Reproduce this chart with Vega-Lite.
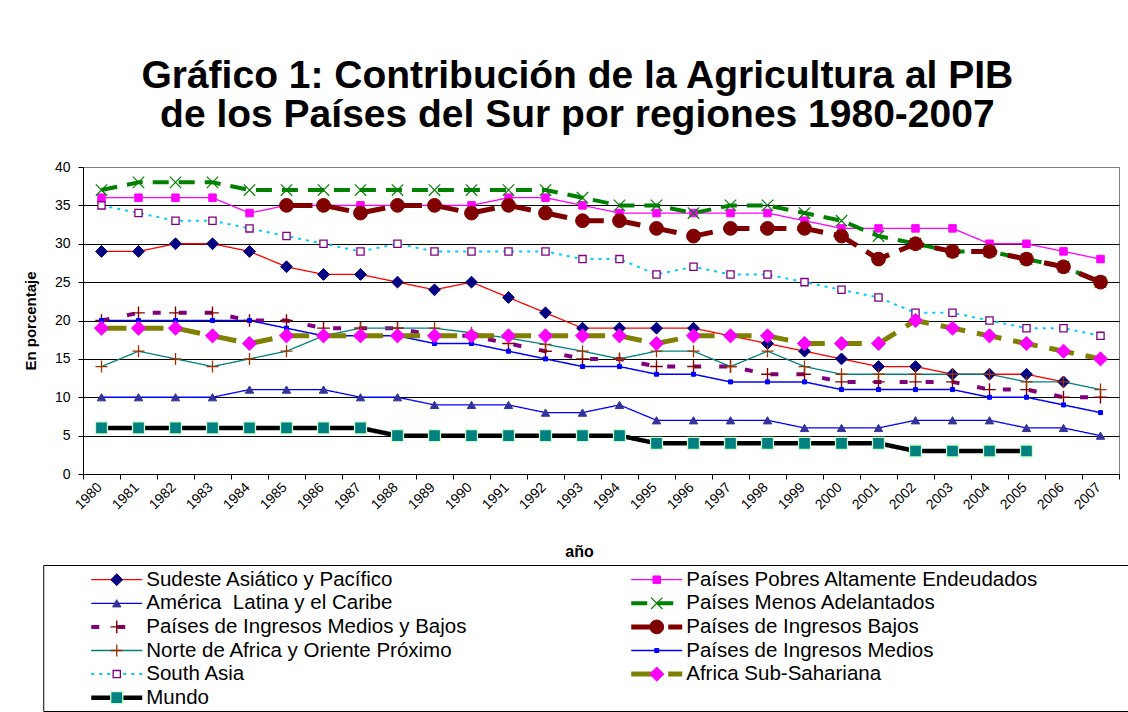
{
  "$schema": "https://vega.github.io/schema/vega-lite/v6.json",
  "padding": {"top": 56, "left": 22, "right": 8, "bottom": 0},
  "background": "white",
  "config": {"font": "Liberation Sans", "view": {"stroke": null}, "concat": {"spacing": 3}},
  "title": {"text": ["Gráfico 1: Contribución de la Agricultura al PIB", "de los Países del Sur por regiones 1980-2007"], "fontSize": 39, "lineHeight": 39, "fontWeight": "bold", "color": "black", "anchor": "middle", "offset": 25, "dx": -14},
  "center": true,
  "datasets": {
    "pts": [
      {"series":"SEA","year":1980,"value":29},{"series":"SEA","year":1981,"value":29},{"series":"SEA","year":1982,"value":30},{"series":"SEA","year":1983,"value":30},{"series":"SEA","year":1984,"value":29},{"series":"SEA","year":1985,"value":27},{"series":"SEA","year":1986,"value":26},{"series":"SEA","year":1987,"value":26},{"series":"SEA","year":1988,"value":25},{"series":"SEA","year":1989,"value":24},{"series":"SEA","year":1990,"value":25},{"series":"SEA","year":1991,"value":23},{"series":"SEA","year":1992,"value":21},{"series":"SEA","year":1993,"value":19},{"series":"SEA","year":1994,"value":19},{"series":"SEA","year":1995,"value":19},{"series":"SEA","year":1996,"value":19},{"series":"SEA","year":1997,"value":18},{"series":"SEA","year":1998,"value":17},{"series":"SEA","year":1999,"value":16},{"series":"SEA","year":2000,"value":15},{"series":"SEA","year":2001,"value":14},{"series":"SEA","year":2002,"value":14},{"series":"SEA","year":2003,"value":13},{"series":"SEA","year":2004,"value":13},{"series":"SEA","year":2005,"value":13},{"series":"SEA","year":2006,"value":12},
      {"series":"HIPC","year":1980,"value":36},{"series":"HIPC","year":1981,"value":36},{"series":"HIPC","year":1982,"value":36},{"series":"HIPC","year":1983,"value":36},{"series":"HIPC","year":1984,"value":34},{"series":"HIPC","year":1985,"value":35},{"series":"HIPC","year":1986,"value":35},{"series":"HIPC","year":1987,"value":35},{"series":"HIPC","year":1988,"value":35},{"series":"HIPC","year":1989,"value":35},{"series":"HIPC","year":1990,"value":35},{"series":"HIPC","year":1991,"value":36},{"series":"HIPC","year":1992,"value":36},{"series":"HIPC","year":1993,"value":35},{"series":"HIPC","year":1994,"value":34},{"series":"HIPC","year":1995,"value":34},{"series":"HIPC","year":1996,"value":34},{"series":"HIPC","year":1997,"value":34},{"series":"HIPC","year":1998,"value":34},{"series":"HIPC","year":1999,"value":33},{"series":"HIPC","year":2000,"value":32},{"series":"HIPC","year":2001,"value":32},{"series":"HIPC","year":2002,"value":32},{"series":"HIPC","year":2003,"value":32},{"series":"HIPC","year":2004,"value":30},{"series":"HIPC","year":2005,"value":30},{"series":"HIPC","year":2006,"value":29},{"series":"HIPC","year":2007,"value":28},
      {"series":"LAC","year":1980,"value":10},{"series":"LAC","year":1981,"value":10},{"series":"LAC","year":1982,"value":10},{"series":"LAC","year":1983,"value":10},{"series":"LAC","year":1984,"value":11},{"series":"LAC","year":1985,"value":11},{"series":"LAC","year":1986,"value":11},{"series":"LAC","year":1987,"value":10},{"series":"LAC","year":1988,"value":10},{"series":"LAC","year":1989,"value":9},{"series":"LAC","year":1990,"value":9},{"series":"LAC","year":1991,"value":9},{"series":"LAC","year":1992,"value":8},{"series":"LAC","year":1993,"value":8},{"series":"LAC","year":1994,"value":9},{"series":"LAC","year":1995,"value":7},{"series":"LAC","year":1996,"value":7},{"series":"LAC","year":1997,"value":7},{"series":"LAC","year":1998,"value":7},{"series":"LAC","year":1999,"value":6},{"series":"LAC","year":2000,"value":6},{"series":"LAC","year":2001,"value":6},{"series":"LAC","year":2002,"value":7},{"series":"LAC","year":2003,"value":7},{"series":"LAC","year":2004,"value":7},{"series":"LAC","year":2005,"value":6},{"series":"LAC","year":2006,"value":6},{"series":"LAC","year":2007,"value":5},
      {"series":"LDC","year":1980,"value":37},{"series":"LDC","year":1981,"value":38},{"series":"LDC","year":1982,"value":38},{"series":"LDC","year":1983,"value":38},{"series":"LDC","year":1984,"value":37},{"series":"LDC","year":1985,"value":37},{"series":"LDC","year":1986,"value":37},{"series":"LDC","year":1987,"value":37},{"series":"LDC","year":1988,"value":37},{"series":"LDC","year":1989,"value":37},{"series":"LDC","year":1990,"value":37},{"series":"LDC","year":1991,"value":37},{"series":"LDC","year":1992,"value":37},{"series":"LDC","year":1993,"value":36},{"series":"LDC","year":1994,"value":35},{"series":"LDC","year":1995,"value":35},{"series":"LDC","year":1996,"value":34},{"series":"LDC","year":1997,"value":35},{"series":"LDC","year":1998,"value":35},{"series":"LDC","year":1999,"value":34},{"series":"LDC","year":2000,"value":33},{"series":"LDC","year":2001,"value":31},{"series":"LDC","year":2002,"value":30},{"series":"LDC","year":2003,"value":29},{"series":"LDC","year":2004,"value":29},{"series":"LDC","year":2005,"value":28},{"series":"LDC","year":2006,"value":27},{"series":"LDC","year":2007,"value":25},
      {"series":"LMIC","year":1980,"value":20},{"series":"LMIC","year":1981,"value":21},{"series":"LMIC","year":1982,"value":21},{"series":"LMIC","year":1983,"value":21},{"series":"LMIC","year":1984,"value":20},{"series":"LMIC","year":1985,"value":20},{"series":"LMIC","year":1986,"value":19},{"series":"LMIC","year":1987,"value":19},{"series":"LMIC","year":1988,"value":19},{"series":"LMIC","year":1989,"value":18},{"series":"LMIC","year":1990,"value":18},{"series":"LMIC","year":1991,"value":17},{"series":"LMIC","year":1992,"value":16},{"series":"LMIC","year":1993,"value":15},{"series":"LMIC","year":1994,"value":15},{"series":"LMIC","year":1995,"value":14},{"series":"LMIC","year":1996,"value":14},{"series":"LMIC","year":1997,"value":14},{"series":"LMIC","year":1998,"value":13},{"series":"LMIC","year":1999,"value":13},{"series":"LMIC","year":2000,"value":12},{"series":"LMIC","year":2001,"value":12},{"series":"LMIC","year":2002,"value":12},{"series":"LMIC","year":2003,"value":12},{"series":"LMIC","year":2004,"value":11},{"series":"LMIC","year":2005,"value":11},{"series":"LMIC","year":2006,"value":10},{"series":"LMIC","year":2007,"value":10},
      {"series":"LIC","year":1985,"value":35},{"series":"LIC","year":1986,"value":35},{"series":"LIC","year":1987,"value":34},{"series":"LIC","year":1988,"value":35},{"series":"LIC","year":1989,"value":35},{"series":"LIC","year":1990,"value":34},{"series":"LIC","year":1991,"value":35},{"series":"LIC","year":1992,"value":34},{"series":"LIC","year":1993,"value":33},{"series":"LIC","year":1994,"value":33},{"series":"LIC","year":1995,"value":32},{"series":"LIC","year":1996,"value":31},{"series":"LIC","year":1997,"value":32},{"series":"LIC","year":1998,"value":32},{"series":"LIC","year":1999,"value":32},{"series":"LIC","year":2000,"value":31},{"series":"LIC","year":2001,"value":28},{"series":"LIC","year":2002,"value":30},{"series":"LIC","year":2003,"value":29},{"series":"LIC","year":2004,"value":29},{"series":"LIC","year":2005,"value":28},{"series":"LIC","year":2006,"value":27},{"series":"LIC","year":2007,"value":25},
      {"series":"MENA","year":1980,"value":14},{"series":"MENA","year":1981,"value":16},{"series":"MENA","year":1982,"value":15},{"series":"MENA","year":1983,"value":14},{"series":"MENA","year":1984,"value":15},{"series":"MENA","year":1985,"value":16},{"series":"MENA","year":1986,"value":18},{"series":"MENA","year":1987,"value":19},{"series":"MENA","year":1988,"value":19},{"series":"MENA","year":1989,"value":19},{"series":"MENA","year":1990,"value":18.4},{"series":"MENA","year":1991,"value":17.7},{"series":"MENA","year":1992,"value":16.9},{"series":"MENA","year":1993,"value":16},{"series":"MENA","year":1994,"value":15},{"series":"MENA","year":1995,"value":16},{"series":"MENA","year":1996,"value":16},{"series":"MENA","year":1997,"value":14},{"series":"MENA","year":1998,"value":16},{"series":"MENA","year":1999,"value":14},{"series":"MENA","year":2000,"value":13},{"series":"MENA","year":2001,"value":13},{"series":"MENA","year":2002,"value":13},{"series":"MENA","year":2003,"value":13},{"series":"MENA","year":2004,"value":13},{"series":"MENA","year":2005,"value":12},{"series":"MENA","year":2006,"value":12},{"series":"MENA","year":2007,"value":11},
      {"series":"MIC","year":1980,"value":20},{"series":"MIC","year":1981,"value":20},{"series":"MIC","year":1982,"value":20},{"series":"MIC","year":1983,"value":20},{"series":"MIC","year":1984,"value":20},{"series":"MIC","year":1985,"value":19},{"series":"MIC","year":1986,"value":18},{"series":"MIC","year":1987,"value":18},{"series":"MIC","year":1988,"value":18},{"series":"MIC","year":1989,"value":17},{"series":"MIC","year":1990,"value":17},{"series":"MIC","year":1991,"value":16},{"series":"MIC","year":1992,"value":15},{"series":"MIC","year":1993,"value":14},{"series":"MIC","year":1994,"value":14},{"series":"MIC","year":1995,"value":13},{"series":"MIC","year":1996,"value":13},{"series":"MIC","year":1997,"value":12},{"series":"MIC","year":1998,"value":12},{"series":"MIC","year":1999,"value":12},{"series":"MIC","year":2000,"value":11},{"series":"MIC","year":2001,"value":11},{"series":"MIC","year":2002,"value":11},{"series":"MIC","year":2003,"value":11},{"series":"MIC","year":2004,"value":10},{"series":"MIC","year":2005,"value":10},{"series":"MIC","year":2006,"value":9},{"series":"MIC","year":2007,"value":8},
      {"series":"SA","year":1980,"value":35},{"series":"SA","year":1981,"value":34},{"series":"SA","year":1982,"value":33},{"series":"SA","year":1983,"value":33},{"series":"SA","year":1984,"value":32},{"series":"SA","year":1985,"value":31},{"series":"SA","year":1986,"value":30},{"series":"SA","year":1987,"value":29},{"series":"SA","year":1988,"value":30},{"series":"SA","year":1989,"value":29},{"series":"SA","year":1990,"value":29},{"series":"SA","year":1991,"value":29},{"series":"SA","year":1992,"value":29},{"series":"SA","year":1993,"value":28},{"series":"SA","year":1994,"value":28},{"series":"SA","year":1995,"value":26},{"series":"SA","year":1996,"value":27},{"series":"SA","year":1997,"value":26},{"series":"SA","year":1998,"value":26},{"series":"SA","year":1999,"value":25},{"series":"SA","year":2000,"value":24},{"series":"SA","year":2001,"value":23},{"series":"SA","year":2002,"value":21},{"series":"SA","year":2003,"value":21},{"series":"SA","year":2004,"value":20},{"series":"SA","year":2005,"value":19},{"series":"SA","year":2006,"value":19},{"series":"SA","year":2007,"value":18},
      {"series":"SSA","year":1980,"value":19},{"series":"SSA","year":1981,"value":19},{"series":"SSA","year":1982,"value":19},{"series":"SSA","year":1983,"value":18},{"series":"SSA","year":1984,"value":17},{"series":"SSA","year":1985,"value":18},{"series":"SSA","year":1986,"value":18},{"series":"SSA","year":1987,"value":18},{"series":"SSA","year":1988,"value":18},{"series":"SSA","year":1989,"value":18},{"series":"SSA","year":1990,"value":18},{"series":"SSA","year":1991,"value":18},{"series":"SSA","year":1992,"value":18},{"series":"SSA","year":1993,"value":18},{"series":"SSA","year":1994,"value":18},{"series":"SSA","year":1995,"value":17},{"series":"SSA","year":1996,"value":18},{"series":"SSA","year":1997,"value":18},{"series":"SSA","year":1998,"value":18},{"series":"SSA","year":1999,"value":17},{"series":"SSA","year":2000,"value":17},{"series":"SSA","year":2001,"value":17},{"series":"SSA","year":2002,"value":20},{"series":"SSA","year":2003,"value":19},{"series":"SSA","year":2004,"value":18},{"series":"SSA","year":2005,"value":17},{"series":"SSA","year":2006,"value":16},{"series":"SSA","year":2007,"value":15},
      {"series":"WLD","year":1980,"value":6},{"series":"WLD","year":1981,"value":6},{"series":"WLD","year":1982,"value":6},{"series":"WLD","year":1983,"value":6},{"series":"WLD","year":1984,"value":6},{"series":"WLD","year":1985,"value":6},{"series":"WLD","year":1986,"value":6},{"series":"WLD","year":1987,"value":6},{"series":"WLD","year":1988,"value":5},{"series":"WLD","year":1989,"value":5},{"series":"WLD","year":1990,"value":5},{"series":"WLD","year":1991,"value":5},{"series":"WLD","year":1992,"value":5},{"series":"WLD","year":1993,"value":5},{"series":"WLD","year":1994,"value":5},{"series":"WLD","year":1995,"value":4},{"series":"WLD","year":1996,"value":4},{"series":"WLD","year":1997,"value":4},{"series":"WLD","year":1998,"value":4},{"series":"WLD","year":1999,"value":4},{"series":"WLD","year":2000,"value":4},{"series":"WLD","year":2001,"value":4},{"series":"WLD","year":2002,"value":3},{"series":"WLD","year":2003,"value":3},{"series":"WLD","year":2004,"value":3},{"series":"WLD","year":2005,"value":3}
    ],
    "leg": [
      {"series":"SEA","label":"Sudeste Asiático y Pacífico","col":0,"row":0},
      {"series":"LAC","label":"\u00a0América\u00a0 Latina y el Caribe","col":0,"row":1},
      {"series":"LMIC","label":"Países de Ingresos Medios y Bajos","col":0,"row":2},
      {"series":"MENA","label":"Norte de Africa y Oriente Próximo","col":0,"row":3},
      {"series":"SA","label":"\u00a0South Asia","col":0,"row":4},
      {"series":"WLD","label":"Mundo","col":0,"row":5},
      {"series":"HIPC","label":"Países Pobres Altamente Endeudados","col":1,"row":0},
      {"series":"LDC","label":"Países Menos Adelantados","col":1,"row":1},
      {"series":"LIC","label":"Países de Ingresos Bajos","col":1,"row":2},
      {"series":"MIC","label":"Países de Ingresos Medios","col":1,"row":3},
      {"series":"SSA","label":"\u00a0Africa Sub-Sahariana","col":1,"row":4}
    ]
  },
  "vconcat": [
    {
      "width": 1036,
      "height": 307,
      "data": {"name": "pts"},
      "view": {"stroke": "#808080", "strokeWidth": 1},
      "encoding": {
        "x": {"field": "year", "type": "ordinal", "scale": {"type": "band", "paddingInner": 0, "paddingOuter": 0},
          "axis": {"tickBand": "extent", "labelAngle": -45, "labelAlign": "right", "labelBaseline": "middle", "labelFontSize": 14, "labelColor": "black", "labelPadding": 6, "labelOffset": -2, "tickSize": 5, "tickColor": "black", "domainColor": "black", "grid": false, "title": "año", "titleFontSize": 16, "titleFontWeight": "bold", "titleColor": "black", "titlePadding": 32, "titleX": 496}},
        "y": {"field": "value", "type": "quantitative", "scale": {"domain": [0, 40]},
          "axis": {"values": [0,5,10,15,20,25,30,35,40], "grid": true, "gridColor": {"condition": {"test": "datum.value === 40", "value": "#808080"}, "value": "black"}, "gridWidth": 1, "domainColor": "black", "tickColor": "black", "tickSize": 5, "labelFontSize": 14, "labelColor": "black", "labelPadding": 8, "title": "En porcentaje", "titleFontSize": 15, "titleFontWeight": "bold", "titleColor": "black", "titlePadding": 16}}
      },
      "layer": [
        {
          "mark": {"type": "line", "strokeCap": "butt", "strokeJoin": "round"},
          "encoding": {
            "stroke": {"field": "series", "type": "nominal", "legend": null, "scale": {"domain": ["SEA","HIPC","LAC","LDC","LMIC","LIC","MENA","MIC","SA","SSA","WLD"], "range": ["#FF0000","#FF00FF","#0000FF","#008000","#800080","#800000","#008080","#0000FF","#00CCFF","#808000","#000000"]}},
            "strokeDash": {"field": "series", "type": "nominal", "legend": null, "scale": {"domain": ["SEA","HIPC","LAC","LDC","LMIC","LIC","MENA","MIC","SA","SSA","WLD"], "range": [[1,0],[1,0],[1,0],[16,10],[8,18],[26,11],[1,0],[1,0],[3,5],[25,12],[1,0]]}},
            "strokeWidth": {"field": "series", "type": "nominal", "legend": null, "scale": {"type": "ordinal", "domain": ["SEA","HIPC","LAC","LDC","LMIC","LIC","MENA","MIC","SA","SSA","WLD"], "range": [1.3,1.3,1.3,4,4,5,1.3,1.5,2,5,4.5]}}
          }
        },
        {
          "mark": {"type": "point", "opacity": 1},
          "encoding": {
            "shape": {"field": "series", "type": "nominal", "legend": null, "scale": {"domain": ["SEA","HIPC","LAC","LDC","LMIC","LIC","MENA","MIC","SA","SSA","WLD"], "range": ["diamond","square","triangle-up","M-1,-1L1,1M-1,1L1,-1","M-1,0L1,0M0,-1L0,1","circle","M-1,0L1,0M0,-1L0,1","square","square","diamond","square"]}},
            "fill": {"field": "series", "type": "nominal", "legend": null, "scale": {"domain": ["SEA","HIPC","LAC","LDC","LMIC","LIC","MENA","MIC","SA","SSA","WLD"], "range": ["#000080","#FF00FF","#333399","transparent","transparent","#800000","transparent","#0000FF","white","#FF00FF","#008080"]}},
            "stroke": {"field": "series", "type": "nominal", "legend": null, "scale": {"domain": ["SEA","HIPC","LAC","LDC","LMIC","LIC","MENA","MIC","SA","SSA","WLD"], "range": ["#000080","#FF00FF","#333399","#008000","#800000","#800000","#993300","#0000FF","#800080","#FF00FF","#CCFFCC"]}},
            "size": {"field": "series", "type": "nominal", "legend": null, "scale": {"type": "ordinal", "domain": ["SEA","HIPC","LAC","LDC","LMIC","LIC","MENA","MIC","SA","SSA","WLD"], "range": [140,56,70,130,160,190,144,16,52,200,144]}},
            "strokeWidth": {"field": "series", "type": "nominal", "legend": null, "scale": {"type": "ordinal", "domain": ["SEA","HIPC","LAC","LDC","LMIC","LIC","MENA","MIC","SA","SSA","WLD"], "range": [1,1,1,1.2,1.4,1,1.3,1,1.3,1,1.3]}}
          }
        }
      ],
      "resolve": {"scale": {"stroke": "independent", "strokeWidth": "independent"}}
    },
    {
      "width": 1116,
      "height": 146,
      "data": {"name": "leg"},
      "view": {"stroke": "black", "strokeWidth": 1},
      "encoding": {
        "x": {"field": "col", "type": "quantitative", "scale": {"domain": [0, 1], "range": [48, 588]}, "axis": null},
        "y": {"field": "row", "type": "quantitative", "scale": {"domain": [0, 5], "range": [14.7, 132.7]}, "axis": null}
      },
      "layer": [
        {
          "mark": {"type": "rule", "x2Offset": 51, "strokeCap": "butt"},
          "encoding": {
            "x2": {"field": "col"},
            "stroke": {"field": "series", "type": "nominal", "legend": null, "scale": {"domain": ["SEA","HIPC","LAC","LDC","LMIC","LIC","MENA","MIC","SA","SSA","WLD"], "range": ["#FF0000","#FF00FF","#0000FF","#008000","#800080","#800000","#008080","#0000FF","#00CCFF","#808000","#000000"]}},
            "strokeDash": {"field": "series", "type": "nominal", "legend": null, "scale": {"domain": ["SEA","HIPC","LAC","LDC","LMIC","LIC","MENA","MIC","SA","SSA","WLD"], "range": [[1,0],[1,0],[1,0],[16,10],[8,18],[26,11],[1,0],[1,0],[3,5],[25,12],[1,0]]}},
            "strokeWidth": {"field": "series", "type": "nominal", "legend": null, "scale": {"type": "ordinal", "domain": ["SEA","HIPC","LAC","LDC","LMIC","LIC","MENA","MIC","SA","SSA","WLD"], "range": [1.3,1.3,1.3,4,4,5,1.3,1.5,2,5,4.5]}}
          }
        },
        {
          "mark": {"type": "point", "opacity": 1, "xOffset": 25.5},
          "encoding": {
            "shape": {"field": "series", "type": "nominal", "legend": null, "scale": {"domain": ["SEA","HIPC","LAC","LDC","LMIC","LIC","MENA","MIC","SA","SSA","WLD"], "range": ["diamond","square","triangle-up","M-1,-1L1,1M-1,1L1,-1","M-1,0L1,0M0,-1L0,1","circle","M-1,0L1,0M0,-1L0,1","square","square","diamond","square"]}},
            "fill": {"field": "series", "type": "nominal", "legend": null, "scale": {"domain": ["SEA","HIPC","LAC","LDC","LMIC","LIC","MENA","MIC","SA","SSA","WLD"], "range": ["#000080","#FF00FF","#333399","transparent","transparent","#800000","transparent","#0000FF","white","#FF00FF","#008080"]}},
            "stroke": {"field": "series", "type": "nominal", "legend": null, "scale": {"domain": ["SEA","HIPC","LAC","LDC","LMIC","LIC","MENA","MIC","SA","SSA","WLD"], "range": ["#000080","#FF00FF","#333399","#008000","#800000","#800000","#993300","#0000FF","#800080","#FF00FF","#CCFFCC"]}},
            "size": {"field": "series", "type": "nominal", "legend": null, "scale": {"type": "ordinal", "domain": ["SEA","HIPC","LAC","LDC","LMIC","LIC","MENA","MIC","SA","SSA","WLD"], "range": [140,56,70,130,160,190,144,16,52,200,144]}},
            "strokeWidth": {"field": "series", "type": "nominal", "legend": null, "scale": {"type": "ordinal", "domain": ["SEA","HIPC","LAC","LDC","LMIC","LIC","MENA","MIC","SA","SSA","WLD"], "range": [1,1,1,1.2,1.4,1,1.3,1,1.3,1,1.3]}}
          }
        },
        {
          "mark": {"type": "text", "dx": 55, "align": "left", "baseline": "middle", "fontSize": 20.5, "color": "black"},
          "encoding": {"text": {"field": "label"}}
        }
      ],
      "resolve": {"scale": {"stroke": "independent", "strokeWidth": "independent"}}
    }
  ]
}
